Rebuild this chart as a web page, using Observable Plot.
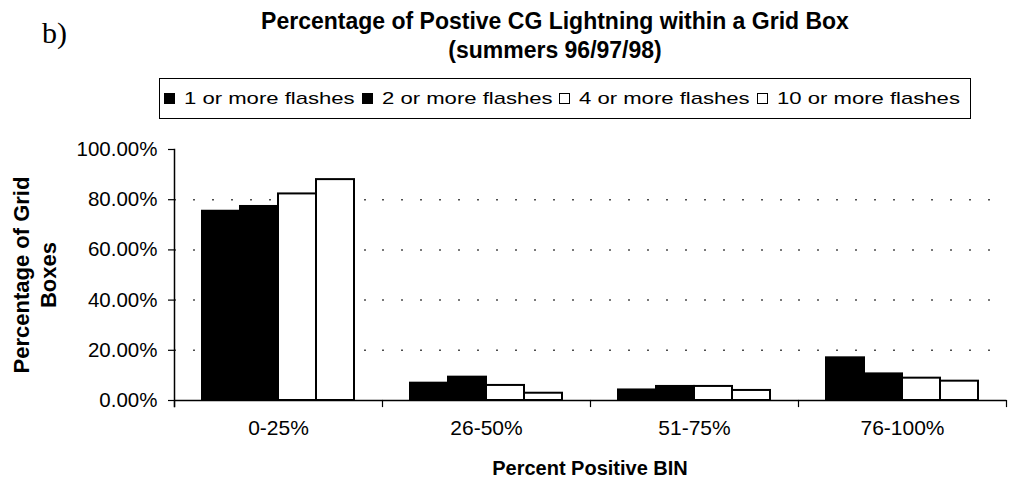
<!DOCTYPE html>
<html><head><meta charset="utf-8">
<script src="https://cdn.jsdelivr.net/npm/d3@7"></script>
<script src="https://cdn.jsdelivr.net/npm/@observablehq/plot@0.6"></script>
<style>
html,body{margin:0;padding:0;background:#fff;}
#root{position:relative;width:1016px;height:481px;overflow:hidden;font-family:"Liberation Sans",Arial,sans-serif;color:#000;}
#panel{position:absolute;left:42px;top:18px;font:30px/30px "Liberation Serif","Times New Roman",serif;}
#title{position:absolute;left:0;top:7px;width:1110px;text-align:center;font-weight:bold;font-size:23px;line-height:28.5px;}
#title .sub{letter-spacing:0px;}
#legend{position:absolute;left:159px;top:78px;width:812px;height:41px;box-sizing:border-box;border:1px solid #000;display:flex;align-items:center;padding-left:4px;}
.item{display:flex;align-items:center;margin-right:7px;}
.sw{width:11px;height:11px;box-sizing:border-box;border:1.5px solid #000;margin-right:9px;}
.lt{display:inline-block;font-size:17px;white-space:nowrap;transform-origin:left center;}
#chart{position:absolute;left:0;top:130px;}
#ytitle{position:absolute;left:-95.5px;top:248px;width:260px;height:54px;text-align:center;font-weight:bold;font-size:22px;line-height:27px;transform:rotate(-90deg);transform-origin:center center;}
#xtitle{position:absolute;left:390px;top:458px;width:400px;text-align:center;font-weight:bold;font-size:20px;line-height:20px;}
</style></head><body><div id="root">
<div id="panel">b)</div>
<div id="title"><div>Percentage of Postive CG Lightning within a Grid Box</div><div class="sub">(summers 96/97/98)</div></div>
<div id="legend"></div>
<div id="chart"></div>
<div id="ytitle">Percentage of Grid<br>Boxes</div>
<div id="xtitle">Percent Positive BIN</div>
</div>
<script>
const categories = ["0-25%", "26-50%", "51-75%", "76-100%"];
const series = ["1 or more flashes", "2 or more flashes", "4 or more flashes", "10 or more flashes"];
const seriesColors = ["#000", "#000", "#fff", "#fff"];
const oneOrMore = [75.4, 6.9, 4.2, 17.0];
const twoOrMore = [77.3, 9.3, 5.6, 10.6];
const fourOrMore = [82.3, 6.0, 5.6, 8.9];
const tenOrMore = [88.0, 2.9, 4.0, 7.7];
const yTicks = [0, 20, 40, 60, 80, 100];
const gridTicks = [20, 40, 60, 80];

const valueSets = [oneOrMore, twoOrMore, fourOrMore, tenOrMore];
const rows = [];
categories.forEach((c, i) => series.forEach((s, j) => rows.push({cat: c, series: s, value: valueSets[j][i]})));

// legend
const legend = document.getElementById("legend");
series.forEach((s, j) => {
  const it = document.createElement("div"); it.className = "item";
  const sw = document.createElement("div"); sw.className = "sw"; sw.style.background = seriesColors[j];
  const t = document.createElement("span"); t.className = "lt"; t.textContent = s;
  it.appendChild(sw); it.appendChild(t); legend.appendChild(it);
});
const texts = Array.from(legend.querySelectorAll(".lt"));
const natural = texts.map(t => t.getBoundingClientRect().width);
const available = 960 - 164 - series.length * 20 - (series.length - 1) * 7;
const stretch = available / d3.sum(natural);
texts.forEach((t, i) => {
  t.style.width = (natural[i] * stretch) + "px";
  t.style.transform = `scaleX(${stretch})`;
});

const plot = Plot.plot({
  width: 1016,
  height: 351,
  marginTop: 19,
  marginBottom: 81,
  marginLeft: 172,
  marginRight: 9,
  style: {fontFamily: '"Liberation Sans", Arial, sans-serif', color: "#000", background: "transparent"},
  fx: {domain: categories, paddingInner: 0, paddingOuter: 0, axis: null},
  x: {domain: series, paddingInner: 0, paddingOuter: 0.69, axis: null},
  y: {domain: [0, 100], axis: null},
  color: {domain: series, range: seriesColors},
  marks: [
    Plot.gridY(gridTicks, {stroke: "#222", strokeOpacity: 0.8, strokeWidth: 1.5, strokeDasharray: "2,17"}),
    Plot.barY(rows, {fx: "cat", x: "series", y: "value", fill: "series", stroke: "#000", strokeWidth: 2}),
    Plot.ruleY([0], {stroke: "#000", strokeWidth: 1.5}),
    Plot.frame({anchor: "left", insetTop: 251, insetBottom: -6, stroke: "#000", strokeWidth: 1.2}),
    Plot.frame({anchor: "left", facetAnchor: "left", insetBottom: -6, stroke: "#000", strokeWidth: 1.5}),
    Plot.frame({anchor: "right", facetAnchor: "right", insetTop: 251, insetBottom: -6, stroke: "#000", strokeWidth: 1.2}),
    Plot.axisY(yTicks, {anchor: "left", tickFormat: d => d.toFixed(2) + "%", tickSize: 6, tickPadding: 11, fontSize: 20.5, label: null, strokeWidth: 1.2}),
    Plot.axisFx({anchor: "bottom", tickSize: 0, tickPadding: 20, fontSize: 21, label: null})
  ]
});
document.getElementById("chart").appendChild(plot);
</script>
</body></html>
